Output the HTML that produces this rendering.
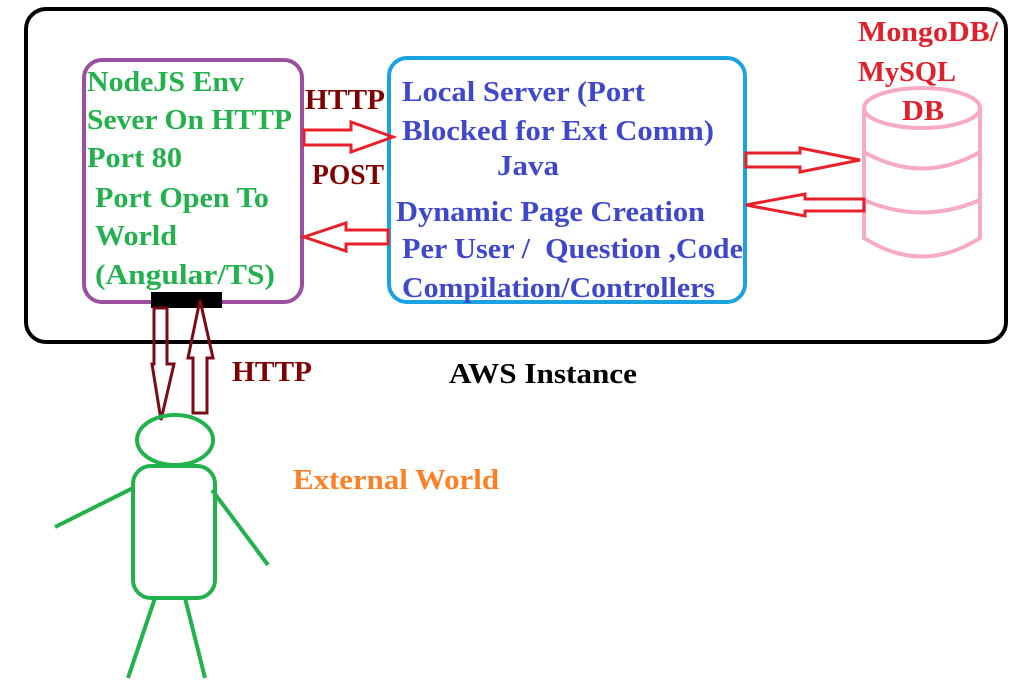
<!DOCTYPE html>
<html><head><style>
html,body{margin:0;padding:0;background:#fff;}
svg{display:block;}
text{font-family:"Liberation Serif",serif;font-weight:bold;font-size:29px;}
</style></head><body>
<svg width="1014" height="680" viewBox="0 0 1014 680" xmlns="http://www.w3.org/2000/svg">
<rect x="26" y="9" width="980" height="333" rx="20" fill="none" stroke="#000" stroke-width="4"/>
<rect x="84" y="60" width="218" height="242" rx="18" fill="none" stroke="#9b4f9e" stroke-width="4"/>
<rect x="389" y="58" width="356" height="244" rx="18" fill="none" stroke="#1aa3e0" stroke-width="4"/>
<g fill="none" stroke="#f7aac4" stroke-width="4">
<ellipse cx="922" cy="108" rx="58" ry="20"/>
<path d="M864 108 V238 Q922 275 980 238 V108"/>
<path d="M864 152 Q922 185 980 152"/>
<path d="M864 200 Q922 225 980 200"/>
</g>
<g fill="none" stroke="#e8202a" stroke-width="3" stroke-linejoin="miter">
<path d="M304 130 H351 V122 L393 137 L351 152 V145 H304 Z"/>
<path d="M388 230 H346 V223 L304 237 L346 251 V244 H388 Z"/>
<path d="M746 153 H800 V148 L860 160 L800 172 V167 H746 Z"/>
<path d="M864 199 H805 V194 L746 205 L805 216 V211 H864 Z"/>
</g>
<rect x="151" y="292" width="71" height="16" fill="#000"/>
<g fill="none" stroke="#7b0a17" stroke-width="3">
<path d="M154 308 H167 V364 H174 L161 420 L152 364 H154 Z"/>
<path d="M193 413 H207 V358 H213 L200 300 L188 358 H193 Z"/>
</g>
<g fill="none" stroke="#22b14c" stroke-width="4">
<ellipse cx="175" cy="440" rx="38" ry="25"/>
<rect x="133" y="466" width="82" height="132" rx="18"/>
<line x1="133" y1="488" x2="55" y2="527"/>
<line x1="212" y1="490" x2="268" y2="565"/>
<line x1="155" y1="598" x2="128" y2="678"/>
<line x1="185" y1="598" x2="205" y2="678"/>
</g>
<g fill="#22b14c">
<text x="87" y="91" textLength="157" lengthAdjust="spacingAndGlyphs">NodeJS Env</text>
<text x="87" y="129" textLength="205" lengthAdjust="spacingAndGlyphs">Sever On HTTP</text>
<text x="87" y="167" textLength="95" lengthAdjust="spacingAndGlyphs">Port 80</text>
<text x="95" y="207" textLength="174" lengthAdjust="spacingAndGlyphs">Port Open To</text>
<text x="95" y="245" textLength="82" lengthAdjust="spacingAndGlyphs">World</text>
<text x="95" y="284" textLength="180" lengthAdjust="spacingAndGlyphs">(Angular/TS)</text>
</g>
<g fill="#800000">
<text x="305" y="109" textLength="80" lengthAdjust="spacingAndGlyphs">HTTP</text>
<text x="312" y="184" textLength="72" lengthAdjust="spacingAndGlyphs">POST</text>
<text x="232" y="381" textLength="80" lengthAdjust="spacingAndGlyphs">HTTP</text>
</g>
<g fill="#3f48cc">
<text x="402" y="101" textLength="243" lengthAdjust="spacingAndGlyphs">Local Server (Port</text>
<text x="402" y="140" textLength="312" lengthAdjust="spacingAndGlyphs">Blocked for Ext Comm)</text>
<text x="497" y="175" textLength="62" lengthAdjust="spacingAndGlyphs">Java</text>
<text x="396" y="221" textLength="309" lengthAdjust="spacingAndGlyphs">Dynamic Page Creation</text>
<text x="402" y="258" textLength="341" lengthAdjust="spacingAndGlyphs" xml:space="preserve">Per User /  Question ,Code</text>
<text x="402" y="297" textLength="313" lengthAdjust="spacingAndGlyphs">Compilation/Controllers</text>
</g>
<g fill="#e0202a">
<text x="858" y="41" textLength="140" lengthAdjust="spacingAndGlyphs">MongoDB/</text>
<text x="858" y="81" textLength="98" lengthAdjust="spacingAndGlyphs">MySQL</text>
<text x="902" y="120" textLength="42" lengthAdjust="spacingAndGlyphs">DB</text>
</g>
<text x="449" y="383" fill="#000" textLength="188" lengthAdjust="spacingAndGlyphs">AWS Instance</text>
<text x="293" y="489" fill="#ff7f27" textLength="206" lengthAdjust="spacingAndGlyphs">External World</text>
</svg>
</body></html>
